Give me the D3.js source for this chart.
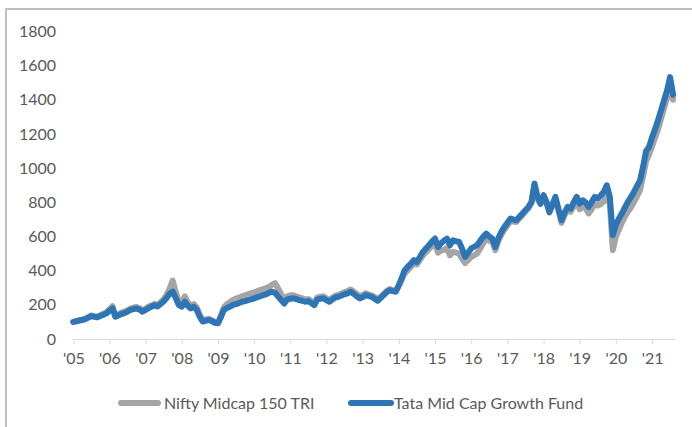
<!DOCTYPE html>
<html>
<head>
<meta charset="utf-8">
<script src="https://cdn.jsdelivr.net/npm/d3@7"></script>
<style>
  body { margin: 0; background: #fff; }
  svg text { font-family: Lato, "Open Sans", sans-serif; fill: #595959; }
</style>
</head>
<body>
<div id="chart"></div>
<script>
// monthly points, Jan 2005 .. Aug 2021
var startYear = 2005, endMonth = "2021-08";

var yearTicks = ["'05","'06","'07","'08","'09","'10","'11","'12","'13","'14","'15","'16","'17","'18","'19","'20","'21"];
var yTicks = [0, 200, 400, 600, 800, 1000, 1200, 1400, 1600, 1800];
var seriesNames = ["Nifty Midcap 150 TRI", "Tata Mid Cap Growth Fund"];

// Nifty Midcap 150 TRI (grey)
var nifty = [
  100,105,110,113,119,128,138,134,131,140,148,157,
  174,192,138,145,154,160,168,178,184,188,180,168,
  178,190,197,206,198,215,232,258,295,342,275,225,
  205,250,215,195,205,185,140,108,115,118,110,100,
  96,140,185,205,215,228,236,242,250,256,262,268,
  272,280,286,292,298,305,318,327,295,262,228,250,
  256,256,250,244,238,230,234,222,208,244,248,250,
  238,228,242,254,258,266,274,280,290,278,264,252,
  258,268,262,256,245,232,248,264,282,292,286,282,
  312,350,385,402,422,442,436,462,488,508,526,546,
  558,505,518,522,532,490,510,505,500,470,445,462,
  480,490,500,530,560,585,575,570,520,575,610,640,
  665,690,688,685,705,725,745,765,795,900,820,790,
  835,795,740,782,820,750,680,725,755,745,775,800,
  760,775,765,735,760,790,780,790,805,840,790,520,
  600,640,680,715,745,770,800,835,870,950,1040,1080,
  1130,1180,1225,1290,1350,1410,1490,1400
];

// Tata Mid Cap Growth Fund (blue)
var tata = [
  100,104,108,111,116,125,134,130,127,135,142,150,
  165,179,130,138,146,152,160,170,175,179,172,160,
  170,182,189,198,190,205,220,240,265,277,240,200,
  189,218,195,179,189,170,130,102,108,111,104,95,
  92,131,170,182,189,200,204,210,218,222,228,232,
  238,245,250,257,262,271,277,270,248,228,208,232,
  236,238,234,228,224,218,222,210,198,232,236,238,
  228,218,232,243,247,255,262,267,277,265,250,238,
  245,257,252,247,236,224,240,257,275,286,280,277,
  316,360,403,423,440,462,452,480,510,530,549,570,
  588,539,560,575,588,549,578,572,568,530,481,505,
  530,540,549,575,598,617,600,588,539,590,627,656,
  680,705,700,695,715,734,754,773,802,910,832,793,
  842,800,744,790,832,760,695,740,773,763,800,832,
  793,812,800,773,800,832,822,840,861,900,832,608,
  670,705,734,770,802,830,861,895,929,1007,1100,1124,
  1182,1230,1280,1338,1397,1455,1533,1430
];

var dates = d3.timeMonth.range(new Date(startYear, 0, 1), d3.timeMonth.offset(d3.timeParse("%Y-%m")(endMonth), 1));

var width = 692, height = 427;
var svg = d3.select("#chart").append("svg")
  .attr("width", width).attr("height", height);

// outer frame (only top and left visible)
svg.append("path")
  .attr("d", "M6,427V9H692")
  .attr("fill", "none")
  .attr("stroke", "#bfbfbf")
  .attr("stroke-width", 2);

var x = d3.scaleTime()
  .domain([new Date(2005, 0, 1), new Date(2021, 7, 20)])
  .range([73.3, 675]);

var y = d3.scaleLinear().domain([0, 1800]).range([339, 31.5]);

// y labels, no axis line
svg.append("g").selectAll("text")
  .data(yTicks).enter().append("text")
  .attr("x", 56)
  .attr("y", function(d) { return y(d); })
  .attr("dy", "0.35em")
  .attr("text-anchor", "end")
  .style("font-size", "16px")
  .text(function(d) { return d; });

// x axis
var xAxis = d3.axisBottom(x)
  .tickValues(yearTicks.map(function(d, i) { return new Date(startYear + i, 0, 1); }))
  .tickFormat(function(d, i) { return yearTicks[i]; })
  .tickSize(5)
  .tickSizeOuter(0)
  .tickPadding(9);

var gx = svg.append("g")
  .attr("transform", "translate(0," + y(0) + ")")
  .call(xAxis);
gx.select(".domain").attr("stroke", "#d9d9d9");
gx.selectAll(".tick line").attr("stroke", "#d9d9d9");
gx.selectAll(".tick text")
  .style("font-family", "Lato, Open Sans, sans-serif")
  .style("font-size", "16px")
  .attr("fill", "#595959");

var line = d3.line()
  .x(function(d, i) { return x(dates[i]); })
  .y(function(d) { return y(d); });

var colors = ["#a5a5a5", "#2e75b6"];

[nifty, tata].forEach(function(s, k) {
  svg.append("path")
    .datum(s)
    .attr("d", line)
    .attr("fill", "none")
    .attr("stroke", colors[k])
    .attr("stroke-width", 6)
    .attr("stroke-linejoin", "round")
    .attr("stroke-linecap", "round");
});

// legend
var legendX = [121, 351];
var lg = svg.append("g").selectAll("g")
  .data(seriesNames).enter().append("g")
  .attr("transform", function(d, i) { return "translate(" + legendX[i] + ",403)"; });
lg.append("line")
  .attr("x1", 0).attr("x2", function(d, i) { return i ? 40 : 37; })
  .attr("stroke", function(d, i) { return colors[i]; })
  .attr("stroke-width", 6)
  .attr("stroke-linecap", "round");
lg.append("text")
  .attr("x", 43)
  .attr("dy", "0.35em")
  .style("font-size", "16px")
  .text(function(d) { return d; });
</script>
</body>
</html>
